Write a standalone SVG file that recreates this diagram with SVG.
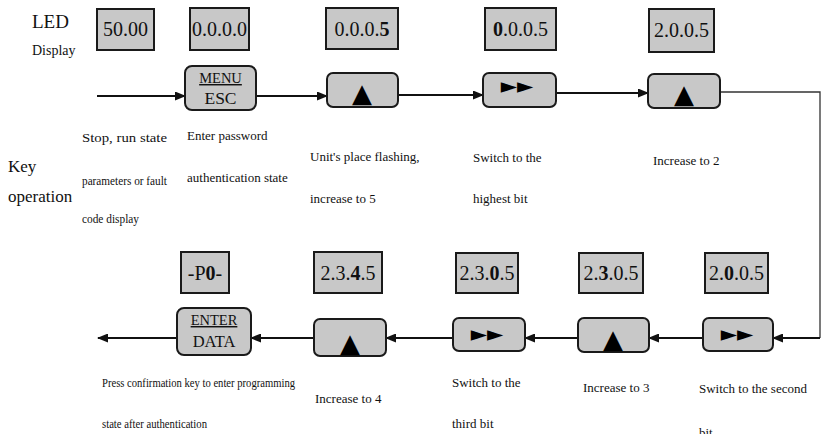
<svg xmlns="http://www.w3.org/2000/svg" width="822" height="434" viewBox="0 0 822 434">
<style>
text{font-family:'Liberation Serif','DejaVu Serif',serif}
.t{fill:#111}
.box{fill:#c8c8c8;stroke:#1a1a1a;stroke-width:2}
.btn{fill:#c8c8c8;stroke:#1a1a1a;stroke-width:2}
.dig{font-size:20px;fill:#111;text-anchor:middle}
text.sym{font-family:'DejaVu Sans',sans-serif;fill:#000;text-anchor:middle}
.lbl{font-size:13px;fill:#111}
.arr{stroke:#111;stroke-width:2;fill:none;marker-end:url(#ah)}
.thin{stroke:#333;stroke-width:1.3;fill:none}
</style>
<defs>
<marker id="ah" markerUnits="userSpaceOnUse" markerWidth="11" markerHeight="9" refX="10" refY="4.5" orient="auto">
<path d="M0,0 L11,4.5 L0,9 z" fill="#111"/>
</marker>
</defs>
<rect width="822" height="434" fill="#fff"/>

<g id="headers">
<text class="t" x="32" y="28" font-size="19">LED</text>
<text class="t" x="32" y="55" font-size="14">Display</text>
<text class="t" x="8" y="172" font-size="17">Key</text>
<text class="t" x="8" y="202" font-size="17">operation</text>
</g>

<g id="connectors">
<line class="arr" x1="97" y1="96" x2="185" y2="96"/>
<line class="arr" x1="256" y1="96" x2="327" y2="96"/>
<line class="arr" x1="398" y1="95" x2="483" y2="95"/>
<line class="arr" x1="556" y1="93" x2="648" y2="93"/>
<polyline class="thin" points="720,92 820,92 820,338"/>
<line class="arr" x1="820" y1="338" x2="773" y2="338"/>
<line class="arr" x1="703" y1="338" x2="649" y2="338"/>
<line class="arr" x1="578" y1="338" x2="525" y2="338"/>
<line class="arr" x1="453" y1="338" x2="386" y2="338"/>
<line class="arr" x1="314" y1="338" x2="251" y2="338"/>
<line class="arr" x1="177" y1="338" x2="98" y2="338"/>
</g>

<g id="d1"><rect class="box" x="97" y="9" width="57" height="41"/><text class="dig" x="125.5" y="36">50.00</text></g>
<g id="d2"><rect class="box" x="190" y="8" width="59" height="42"/><text class="dig" x="219.5" y="36">0.0.0.0</text></g>
<g id="d3"><rect class="box" x="326" y="8" width="72" height="41"/><text class="dig" x="362" y="36" font-size="21">0.0.0.<tspan font-weight="bold">5</tspan></text></g>
<g id="d4"><rect class="box" x="485" y="8" width="71" height="42"/><text class="dig" x="520.5" y="36" font-size="21"><tspan font-weight="bold">0</tspan>.0.0.5</text></g>
<g id="d5"><rect class="box" x="649" y="9" width="65" height="43"/><text class="dig" x="681.5" y="37">2.0.0.5</text></g>

<g id="k1"><rect class="btn" x="185" y="66" width="71" height="44" rx="7"/>
<text class="t" x="220.5" y="83" font-size="14.5" text-anchor="middle" text-decoration="underline">MENU</text>
<text class="t" x="220.5" y="104" font-size="17.5" text-anchor="middle">ESC</text></g>
<g id="k2"><rect class="btn" x="327" y="73" width="71" height="34" rx="6"/><text class="sym" x="362" y="102" font-size="26">▲</text></g>
<g id="k3"><rect class="btn" x="483" y="73" width="73" height="34" rx="6"/><text class="sym" x="517" y="93" font-size="21">►►</text></g>
<g id="k4"><rect class="btn" x="648" y="74" width="72" height="34" rx="6"/><text class="sym" x="684" y="103" font-size="26">▲</text></g>

<g id="b1"><rect class="box" x="181" y="252" width="48" height="41"/><text class="dig" x="205" y="280" font-size="18">-P<tspan font-weight="bold">0</tspan>-</text></g>
<g id="b2"><rect class="box" x="314" y="252" width="68" height="41"/><text class="dig" x="348" y="280" font-size="21">2.3.<tspan font-weight="bold">4</tspan>.5</text></g>
<g id="b3"><rect class="box" x="456" y="253" width="62" height="40"/><text class="dig" x="487" y="280" font-size="21">2.3.<tspan font-weight="bold">0</tspan>.5</text></g>
<g id="b4"><rect class="box" x="579" y="253" width="64" height="40"/><text class="dig" x="611" y="280" font-size="21">2.<tspan font-weight="bold">3</tspan>.0.5</text></g>
<g id="b5"><rect class="box" x="705" y="253" width="63" height="40"/><text class="dig" x="736.5" y="280" font-size="21">2.<tspan font-weight="bold">0</tspan>.0.5</text></g>

<g id="c1"><rect class="btn" x="177" y="308" width="74" height="47" rx="7"/>
<text class="t" x="214" y="325" font-size="14.5" text-anchor="middle" text-decoration="underline">ENTER</text>
<text class="t" x="214" y="347" font-size="16.5" text-anchor="middle">DATA</text></g>
<g id="c2"><rect class="btn" x="314" y="319" width="72" height="37" rx="6"/><text class="sym" x="350" y="352" font-size="26">▲</text></g>
<g id="c3"><rect class="btn" x="453" y="318" width="72" height="33" rx="6"/><text class="sym" x="487" y="341" font-size="21">►►</text></g>
<g id="c4"><rect class="btn" x="578" y="318" width="71" height="34" rx="6"/><text class="sym" x="613" y="348" font-size="26">▲</text></g>
<g id="c5"><rect class="btn" x="703" y="318" width="70" height="33" rx="6"/><text class="sym" x="737" y="341" font-size="21">►►</text></g>

<g id="labels">
<text class="lbl" x="82" y="142" textLength="85" lengthAdjust="spacingAndGlyphs">Stop,   run   state</text>
<text class="lbl" x="82" y="185" textLength="85" lengthAdjust="spacingAndGlyphs">parameters or fault</text>
<text class="lbl" x="82" y="223" textLength="57" lengthAdjust="spacingAndGlyphs">code display</text>
<text class="lbl" x="187" y="140">Enter password</text>
<text class="lbl" x="187" y="182">authentication state</text>
<text class="lbl" x="310" y="161" font-size="14">Unit's place flashing,</text>
<text class="lbl" x="310" y="203" font-size="14">increase to 5</text>
<text class="lbl" x="473" y="162">Switch to the</text>
<text class="lbl" x="473" y="203">highest bit</text>
<text class="lbl" x="653" y="165">Increase to 2</text>
<text class="lbl" x="102" y="387" font-size="12" textLength="193" lengthAdjust="spacingAndGlyphs">Press confirmation key to enter programming</text>
<text class="lbl" x="102" y="428" font-size="12" textLength="105" lengthAdjust="spacingAndGlyphs">state after authentication</text>
<text class="lbl" x="315" y="403">Increase to 4</text>
<text class="lbl" x="452" y="387">Switch to the</text>
<text class="lbl" x="452" y="428">third bit</text>
<text class="lbl" x="583" y="392">Increase to 3</text>
<text class="lbl" x="699" y="393" font-size="14.5">Switch to the second</text>
<text class="lbl" x="699" y="437" font-size="14.5">bit</text>
</g>
</svg>
